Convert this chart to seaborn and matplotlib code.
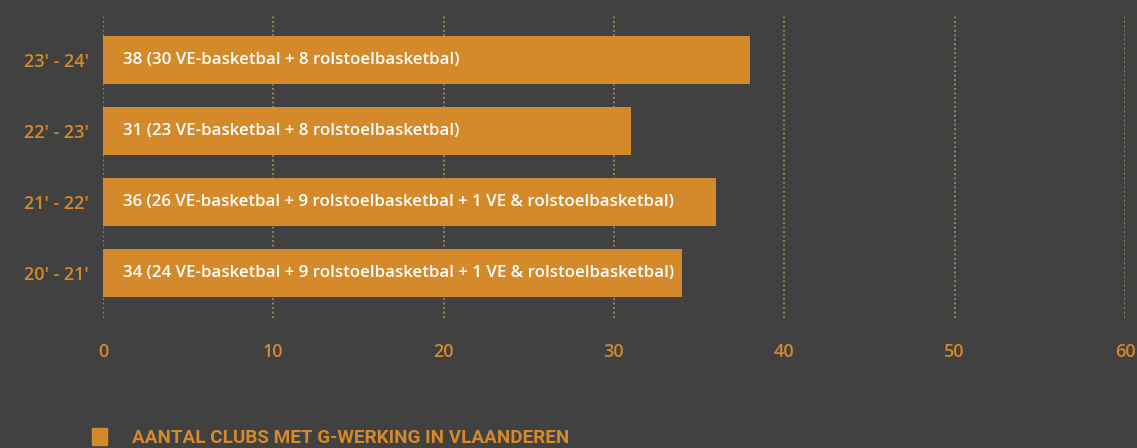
import matplotlib
matplotlib.use("Agg")
import matplotlib.pyplot as plt
import seaborn as sns
from matplotlib.patches import Patch

# data
seasons = ["23′ - 24′", "22′ - 23′", "21′ - 22′", "20′ - 21′"]
clubs = [38, 31, 36, 34]
bar_labels = [
    "38 (30 VE-basketbal + 8 rolstoelbasketbal)",
    "31 (23 VE-basketbal + 8 rolstoelbasketbal)",
    "36 (26 VE-basketbal + 9 rolstoelbasketbal + 1 VE & rolstoelbasketbal)",
    "34 (24 VE-basketbal + 9 rolstoelbasketbal + 1 VE & rolstoelbasketbal)",
]
x_ticks = [0, 10, 20, 30, 40, 50, 60]
legend_label = "AANTAL CLUBS MET G-WERKING IN VLAANDEREN"

bg = "#414141"
orange = "#D4892A"

sns.set_style("dark")
plt.rcParams["font.family"] = ["Open Sans", "DejaVu Sans"]

fig = plt.figure(figsize=(11.37, 4.48), dpi=100, facecolor=bg)
ax = fig.add_axes([0.0906, 0.29, 0.8988, 0.6765])
ax.set_facecolor(bg)

sns.barplot(x=clubs, y=seasons, order=seasons, color=orange, saturation=1,
            width=0.68, orient="h", ax=ax, linewidth=0, zorder=3)

for i, txt in enumerate(bar_labels):
    ax.text(1.2, i, txt, color="white", fontsize=12.2, fontweight="semibold",
            va="center", ha="left", zorder=4)

ax.set_xlim(0, 60)
ax.set_ylim(3.634, -0.634)
ax.set_xticks(x_ticks)
ax.set_xlabel("")
ax.set_ylabel("")
for s in ax.spines.values():
    s.set_visible(False)
ax.grid(False)
for xv in x_ticks:
    ax.axvline(xv, color="#9A8058", linestyle=(0, (1, 1.3)), linewidth=1.4, zorder=1)

ax.tick_params(axis="x", length=0, pad=18, labelsize=13, labelcolor=orange)
ax.tick_params(axis="y", length=0, pad=10, labelsize=13, labelcolor=orange)
for lab in ax.get_xticklabels() + ax.get_yticklabels():
    lab.set_fontweight("semibold")

fig.legend(handles=[Patch(color=orange, label=legend_label)],
           loc="center left", bbox_to_anchor=(0.066, 0.024), frameon=False,
           handlelength=0.8, handleheight=1.0, handletextpad=1.3,
           prop={"family": "Roboto", "size": 13.6, "weight": "bold"},
           labelcolor=orange)

fig.savefig("out.png", dpi=100, facecolor=bg)
